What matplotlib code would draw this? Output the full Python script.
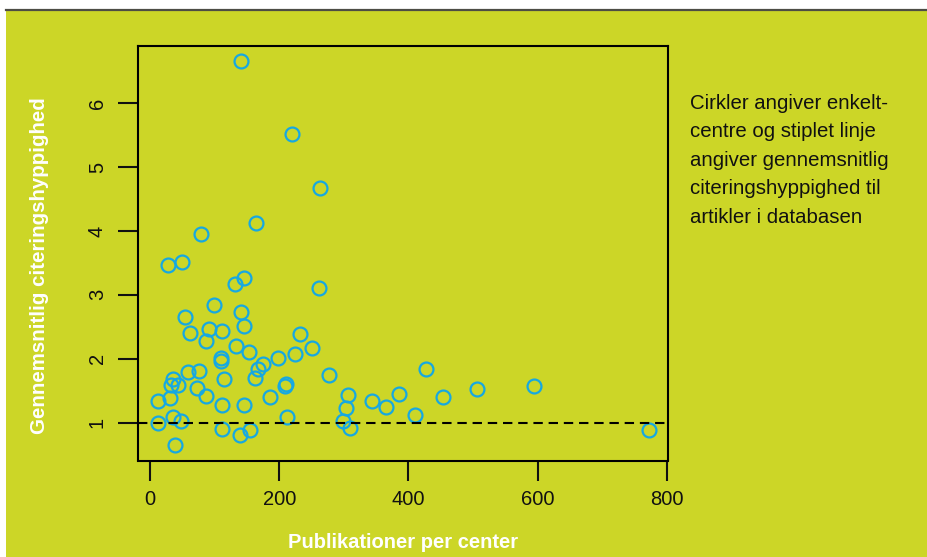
import matplotlib.pyplot as plt
from matplotlib.patches import Rectangle
from matplotlib.lines import Line2D

# publikationer per center og gennemsnitlig citeringshyppighed
pubs = [78, 27, 50, 164, 131, 146, 261, 99, 54, 140,
        145, 61, 91, 112, 87, 232, 133, 153, 251, 109,
        110, 198, 224, 175, 167, 162, 277, 58, 76, 36,
        32, 43, 114, 73, 86, 12, 31, 209, 211, 185,
        112, 145, 307, 303, 343, 366, 385, 12, 35, 48,
        212, 299, 310, 111, 139, 154, 39, 427, 410, 454,
        506, 595, 772, 141, 220, 263]
cites = [3.95, 3.46, 3.52, 4.13, 3.17, 3.27, 3.10, 2.84, 2.65, 2.73,
         2.51, 2.40, 2.47, 2.44, 2.27, 2.38, 2.20, 2.10, 2.17, 2.01,
         1.97, 2.01, 2.07, 1.91, 1.84, 1.70, 1.75, 1.79, 1.81, 1.68,
         1.59, 1.59, 1.68, 1.54, 1.41, 1.34, 1.39, 1.58, 1.60, 1.40,
         1.27, 1.28, 1.43, 1.23, 1.34, 1.25, 1.45, 1.00, 1.08, 1.03,
         1.09, 1.02, 0.91, 0.90, 0.81, 0.88, 0.65, 1.84, 1.12, 1.40,
         1.52, 1.57, 0.89, 6.66, 5.52, 4.68]
db_mean = 1.0
xticks = [0, 200, 400, 600, 800]
yticks = [1, 2, 3, 4, 5, 6]

green = '#ccd627'
cyan = '#16a8e2'

plt.rcParams['font.family'] = ['Liberation Sans', 'DejaVu Sans']

fig = plt.figure(figsize=(9.28, 5.57), dpi=100)
fig.patch.set_facecolor('white')
# green panel + thin dark rule at the top (behind the axes)
fig.patches.append(Rectangle((6 / 928, 0), 1, 1 - 11 / 557, transform=fig.transFigure,
                             facecolor=green, edgecolor='none', zorder=-10))
fig.lines.append(Line2D([6 / 928, 1], [1 - 10 / 557, 1 - 10 / 557], transform=fig.transFigure,
                        color='#4d4d45', lw=1.6, zorder=-9))

ax = fig.add_axes([138 / 928, 1 - 460.5 / 557, 530 / 928, 414.5 / 557])
ax.set_facecolor(green)

ax.plot(pubs, cites, 'o', ms=10, mfc='none', mec=cyan, mew=1.6)
ax.axhline(db_mean, color='black', lw=1.5, dashes=(4.5, 2.8))

ax.set_xlim(-18.8, 802)
ax.set_ylim(0.406, 6.896)
ax.set_xticks(xticks)
ax.set_yticks(yticks)
for s in ax.spines.values():
    s.set_linewidth(1.5)
ax.tick_params(length=14.4, width=1.5, labelsize=14.5, colors='#111111')
ax.tick_params(axis='x', pad=7)
ax.tick_params(axis='y', pad=8, labelrotation=90)
for lab in ax.get_yticklabels():
    lab.set_va('center')

fig.text(403 / 928, 1 - 543 / 557, 'Publikationer per center', color='white',
         fontsize=14.5, fontweight='bold', ha='center', va='center')
fig.text(40 / 928, 1 - 266 / 557, 'Gennemsnitlig citeringshyppighed', color='white',
         fontsize=14.8, fontweight='bold', ha='center', va='center', rotation=90)

fig.text(690 / 928, 1 - 94 / 557,
         'Cirkler angiver enkelt-\ncentre og stiplet linje\nangiver gennemsnitlig\n'
         'citeringshyppighed til\nartikler i databasen',
         color='#111111', fontsize=14.7, ha='left', va='top', linespacing=1.63)

plt.savefig('out.png', dpi=100, facecolor=fig.get_facecolor())
